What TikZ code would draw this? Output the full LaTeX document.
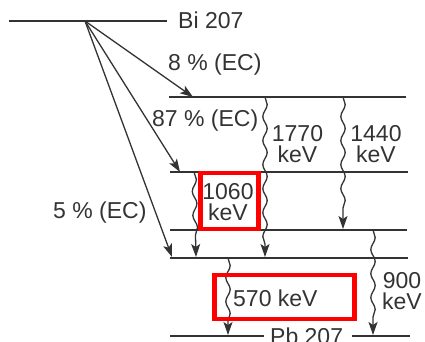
\documentclass[tikz,border=0pt]{standalone}
\usepackage{fontspec}
\setmainfont{Liberation Sans}
\usetikzlibrary{arrows.meta,decorations.pathmorphing}
\definecolor{ink}{rgb}{0.2,0.2,0.2}
\begin{document}
\begin{tikzpicture}[x=1pt,y=-1pt,
  lvl/.style={draw=ink, line width=1.7pt},
  decay/.style={draw=ink, line width=1.3pt, -{Stealth[length=13pt,width=9pt,inset=3pt]}},
  gam/.style={draw=ink, line width=1.3pt, -{Stealth[length=13pt,width=9pt,inset=3pt]},
    decorate, decoration={snake, amplitude=2.2pt, segment length=24pt, post length=12pt}},
  lbl/.style={text=ink, font=\fontsize{23}{21}\selectfont, inner sep=0pt, align=center},
  hl/.style={draw=red, line width=4.5pt, inner sep=0pt}
]
\useasboundingbox (0,0) rectangle (425,341);
% levels
\coordinate (bi0) at (9,21);   \coordinate (bi1) at (167,21);
\coordinate (l1a) at (169,97); \coordinate (l1b) at (406,97);
\coordinate (l2a) at (170,172); \coordinate (l2b) at (408,172);
\coordinate (l3a) at (170,230); \coordinate (l3b) at (407,230);
\coordinate (l4a) at (170,258); \coordinate (l4b) at (408,258);
\coordinate (pba) at (170,336); \coordinate (pbb) at (264,336);
\coordinate (pbc) at (352,336); \coordinate (pbd) at (410,336);
\draw[lvl] (bi0) -- (bi1);
\draw[lvl] (l1a) -- (l1b);
\draw[lvl] (l2a) -- (l2b);
\draw[lvl] (l3a) -- (l3b);
\draw[lvl] (l4a) -- (l4b);
\draw[lvl] (pba) -- (pbb);
\draw[lvl] (pbc) -- (pbd);
% EC branches
\coordinate (src) at (85,21);
\coordinate (e8) at (193,97);
\coordinate (e87) at (180,172);
\coordinate (e5) at (172,257);
\draw[decay] (src) -- (e8);
\draw[decay] (src) -- (e87);
\draw[decay] (src) -- (e5);
% gamma transitions
\coordinate (g1770a) at (265,97);  \coordinate (g1770b) at (265,257);
\coordinate (g1440a) at (343,97);  \coordinate (g1440b) at (343,229);
\coordinate (g1060a) at (194,172); \coordinate (g1060b) at (196,257);
\coordinate (g570a) at (228,258);  \coordinate (g570b) at (228,335);
\coordinate (g900a) at (373,230);  \coordinate (g900b) at (373,335);
\draw[gam] (g1770a) -- (g1770b);
\draw[gam] (g1440a) -- (g1440b);
\draw[gam] (g1060a) -- (g1060b);
\draw[gam] (g570a) -- (g570b);
\draw[gam] (g900a) -- (g900b);
% highlight boxes
\node[hl, minimum width=58pt, minimum height=56pt] (box1060) at (229.5,201) {};
\node[hl, minimum width=140pt, minimum height=44pt] (box570) at (284.5,297) {};
% labels
\node[lbl, anchor=base west] (tbi) at (178,28.5) {Bi 207};
\node[lbl, anchor=base west] (t8) at (168,70) {8 \% (EC)};
\node[lbl, anchor=base west] (t87) at (152,126.5) {87 \% (EC)};
\node[lbl, anchor=base west] (t5) at (53,218) {5 \% (EC)};
\node[lbl] (t1770) at (297.5,144) {1770\\keV};
\node[lbl] (t1440) at (376,144) {1440\\keV};
\node[lbl] (t1060) at (228,202.5) {1060\\keV};
\node[lbl] (t900) at (402,291) {900\\keV};
\node[lbl, anchor=base west] (t570) at (233,306) {570 keV};
\node[lbl, anchor=base west] (tpb) at (270,344) {Pb 207};
\end{tikzpicture}
\end{document}
